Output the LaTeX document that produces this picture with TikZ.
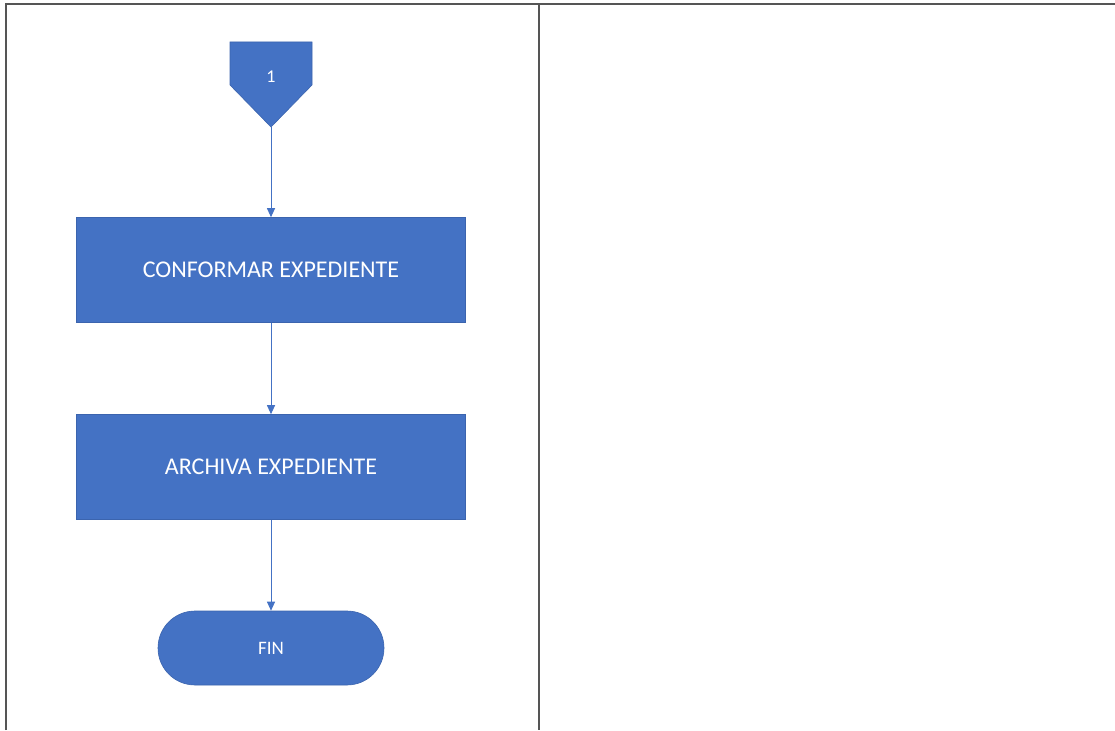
\documentclass[tikz,border=0pt]{standalone}
\usepackage{fontspec}
\setmainfont{Carlito}
\usetikzlibrary{arrows.meta}
\definecolor{flowblue}{HTML}{4472C4}
\definecolor{flowedge}{HTML}{3B64AE}
\definecolor{gridgray}{HTML}{555555}

\begin{document}
\begin{tikzpicture}[x=1pt, y=-1pt]
    \tikzstyle{every node}=[text=white, font=\fontsize{24}{28}\selectfont]
    \tikzstyle{proc}=[rectangle, fill=flowblue, draw=flowedge, line width=0.6pt, minimum width=389pt, minimum height=105pt, inner sep=0pt]
    \tikzstyle{term}=[rectangle, rounded corners=37pt, fill=flowblue, draw=flowedge, line width=0.6pt, minimum width=226pt, minimum height=74pt, inner sep=0pt]
    \tikzstyle{flow}=[draw=flowblue, line width=1pt, -{Triangle[length=9pt, width=8pt]}]
    \useasboundingbox (0,0) rectangle (1115,730);
    % table lines
    \draw[gridgray, line width=1.6pt] (6,730) -- (6,4) -- (1115,4);
    \draw[gridgray, line width=1.6pt] (539,4) -- (539,730);
    % off-page connector
    \fill[flowblue, draw=flowedge, line width=0.6pt] (230,42) -- (312,42) -- (312,85) -- (271,127) -- (230,85) -- cycle;
    \node (conn) at (271,77) {\fontsize{18}{20}\selectfont 1};
    \coordinate (conntip) at (271,127);
    % steps
    \node[proc] (conformar) at (271,270) {CONFORMAR EXPEDIENTE};
    \node[proc] (archiva) at (271,467) {ARCHIVA EXPEDIENTE};
    \node[term] (fin) at (271,648) {\fontsize{19}{22}\selectfont FIN};
    \draw[flow] (conntip) -- (conformar);
    \draw[flow] (conformar) -- (archiva);
    \draw[flow] (archiva) -- (fin);
\end{tikzpicture}
\end{document}
